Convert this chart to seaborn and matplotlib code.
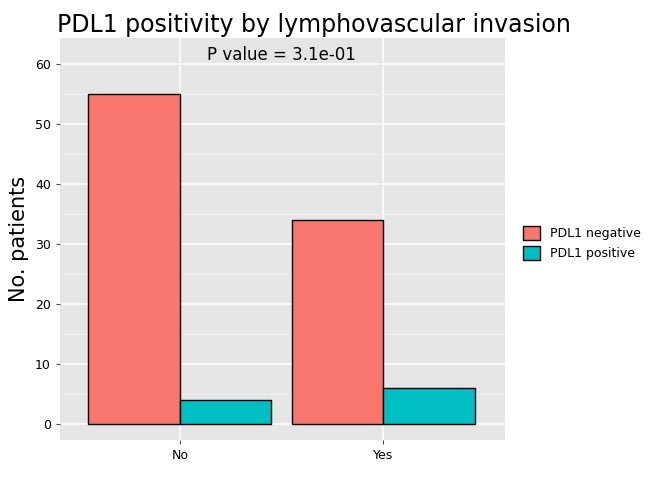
import seaborn as sns
import matplotlib.pyplot as plt
import pandas as pd

invasion = ["No", "No", "Yes", "Yes"]
status = ["PDL1 negative", "PDL1 positive", "PDL1 negative", "PDL1 positive"]
patients = [55, 4, 34, 6]

df = pd.DataFrame({"invasion": invasion, "status": status, "patients": patients})

fig = plt.figure(figsize=(6.72, 4.8), dpi=100)
ax = fig.add_axes([60 / 672, 40 / 480, 445 / 672, 402 / 480])
ax.set_facecolor("#E5E5E5")

sns.barplot(data=df, x="invasion", y="patients", hue="status",
            palette=["#F8766D", "#00BFC4"], edgecolor="black", linewidth=1,
            width=0.9, saturation=1, ax=ax, zorder=3)

ax.set_xlim(-0.59, 1.6)
ax.set_ylim(-2.7, 64.3)
ax.set_yticks([0, 10, 20, 30, 40, 50, 60])
ax.set_yticks([5, 15, 25, 35, 45, 55], minor=True)
ax.grid(True, which="major", color="white", linewidth=1.1, zorder=0)
ax.grid(True, which="minor", axis="y", color="#F2F2F2", linewidth=0.6, zorder=0)
ax.set_axisbelow(True)
for s in ax.spines.values():
    s.set_visible(False)
ax.tick_params(axis="both", colors="#4D4D4D", labelcolor="black", labelsize=9, length=3)
ax.tick_params(which="minor", length=0)
ax.set_xlabel("")
ax.set_ylabel("No. patients", fontsize=15)

ax.text(0.5, 61.5, "P value = 3.1e-01", ha="center", va="center", fontsize=12)
fig.text(57 / 672, 1 - 25 / 480, "PDL1 positivity by lymphovascular invasion",
         fontsize=17, va="center", ha="left")

ax.legend(loc="center left", bbox_to_anchor=(1.03, 0.49), frameon=False,
          fontsize=9, handlelength=1.3, handleheight=1.3, borderaxespad=0)

fig.savefig("out.png", dpi=100)
